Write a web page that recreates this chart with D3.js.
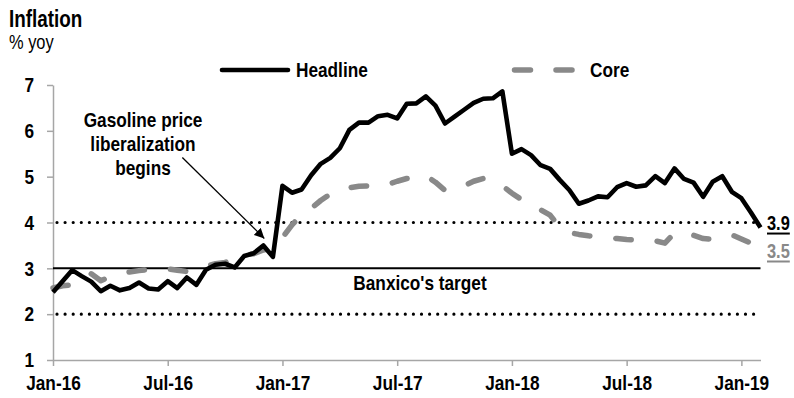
<!DOCTYPE html>
<html>
<head>
<meta charset="utf-8">
<script src="https://cdn.jsdelivr.net/npm/d3@7"></script>
<style>
  body { margin: 0; background: #fff; }
  svg { display: block; }
  text { font-family: "Liberation Sans", Arial, sans-serif; fill: #000; }
</style>
</head>
<body>
<svg id="chart" width="794" height="398"></svg>
<script>
// Mexico: annual CPI inflation, fortnightly readings (1H Jan-16 … 1H Feb-19), % yoy
const headline = [
  2.48, 2.72, 2.96, 2.83, 2.71, 2.50, 2.62, 2.52, 2.57, 2.69, 2.56, 2.54,
  2.72, 2.57, 2.80, 2.64, 2.97, 3.08, 3.10, 3.02, 3.27, 3.33, 3.50, 3.25,
  4.80, 4.65, 4.72, 5.03, 5.28, 5.41, 5.62, 6.02, 6.18, 6.18, 6.32, 6.35,
  6.27, 6.59, 6.60, 6.75, 6.55, 6.16, 6.31, 6.46, 6.61, 6.70, 6.71, 6.86,
  5.50, 5.60, 5.47, 5.25, 5.17, 4.93, 4.71, 4.41, 4.48, 4.57, 4.55, 4.77,
  4.86, 4.78, 4.81, 5.01, 4.86, 5.18, 4.95, 4.87, 4.56, 4.89, 5.01, 4.67,
  4.53, 4.22, 3.89
];
const core = [
  2.57, 2.62, 2.64, 2.76, 2.88, 2.73, 2.82, 2.89, 2.92, 2.95, 2.97, 2.98,
  2.99, 2.96, 2.93, 2.98, 3.05, 3.10, 3.13, 3.20, 3.29, 3.32, 3.40, 3.45,
  3.67, 3.95, 4.17, 4.31, 4.48, 4.62, 4.71, 4.76, 4.79, 4.80, 4.82, 4.83,
  4.90, 4.96, 4.99, 5.02, 4.88, 4.70, 4.76, 4.80, 4.90, 4.96, 4.91, 4.80,
  4.64, 4.50, 4.36, 4.28, 4.16, 3.90, 3.78, 3.74, 3.71, 3.69, 3.67, 3.65,
  3.63, 3.62, 3.62, 3.60, 3.55, 3.77, 3.76, 3.72, 3.65, 3.63, 3.67, 3.73,
  3.64, 3.55, 3.52
];
const yTicks = [1, 2, 3, 4, 5, 6, 7];
const toleranceBounds = [2, 4];
const banxicoTarget = 3;
const tickMonths = [0, 6]; // label January and July
const noteLines = ["Gasoline price", "liberalization", "begins"];

// fortnight start dates: 1st and 16th of each month from Jan 2016
const fortnights = headline.map((_, i) =>
  new Date(2016, Math.floor(i / 2), i % 2 ? 16 : 1));

const svg = d3.select("#chart");
const fmt = d3.timeFormat("%b-%y");

const x = d3.scaleLinear().domain([0, headline.length - 1]).range([53, 760.5]);
const y = d3.scaleLinear().domain([1, 7]).range([360, 85]);

const AXIS_GREY = "#a6a6a6";
const CORE_GREY = "#898989";
const FS = 21;
const NARROW = 0.82;

// squeeze a text run horizontally to a narrow face
function condense(sel) {
  sel.each(function () {
    const w = this.getComputedTextLength();
    d3.select(this).attr("textLength", w * NARROW).attr("lengthAdjust", "spacingAndGlyphs");
  });
  return sel;
}

// titles
condense(svg.append("text").attr("x", 9).attr("y", 27)
  .attr("font-size", 23).attr("font-weight", "bold").text("Inflation"));
condense(svg.append("text").attr("x", 9).attr("y", 49)
  .attr("font-size", 20).text("% yoy"));

// y axis
const yAxis = svg.append("g").attr("transform", `translate(${x(0)},0)`)
  .call(d3.axisLeft(y).tickValues(yTicks).tickSize(6).tickSizeOuter(0).tickPadding(13).tickFormat(d3.format("d")));
yAxis.select(".domain").attr("stroke", AXIS_GREY).attr("stroke-width", 1.5);
yAxis.selectAll(".tick line").attr("stroke", AXIS_GREY).attr("stroke-width", 1.5);
condense(yAxis.selectAll(".tick text").attr("font-size", FS).attr("font-weight", "bold")
  .attr("font-family", null).attr("fill", "#000"));

// x axis
const tickIdx = fortnights.map((d, i) => i)
  .filter(i => fortnights[i].getDate() === 1 && tickMonths.includes(fortnights[i].getMonth()));
const xAxis = svg.append("g").attr("transform", `translate(0,${y(1)})`)
  .call(d3.axisBottom(x).tickValues(tickIdx).tickSize(6).tickSizeOuter(0).tickPadding(9)
    .tickFormat(i => fmt(fortnights[i])));
xAxis.select(".domain").attr("stroke", AXIS_GREY).attr("stroke-width", 1.5);
xAxis.selectAll(".tick line").attr("stroke", AXIS_GREY).attr("stroke-width", 1.5);
condense(xAxis.selectAll(".tick text").attr("font-size", FS).attr("font-weight", "bold")
  .attr("font-family", null).attr("fill", "#000"));

// tolerance band bounds (dotted) and target (solid)
svg.selectAll("line.bound").data(toleranceBounds).join("line")
  .attr("class", "bound")
  .attr("x1", x(0) + 4).attr("x2", x(headline.length - 1))
  .attr("y1", d => y(d)).attr("y2", d => y(d))
  .attr("stroke", "#000").attr("stroke-width", 3.2)
  .attr("stroke-linecap", "round").attr("stroke-dasharray", "0,8.1");
svg.append("line")
  .attr("x1", x(0)).attr("x2", x(headline.length - 1))
  .attr("y1", y(banxicoTarget)).attr("y2", y(banxicoTarget))
  .attr("stroke", "#000").attr("stroke-width", 2);
condense(svg.append("text").attr("x", 420).attr("y", y(banxicoTarget) + 22)
  .attr("text-anchor", "middle").attr("font-size", FS).attr("font-weight", "bold")
  .text("Banxico's target"));

// series
const line = d3.line().x((d, i) => x(i)).y(d => y(d));
svg.append("path").datum(core).attr("d", line)
  .attr("fill", "none").attr("stroke", CORE_GREY).attr("stroke-width", 5.5)
  .attr("stroke-linecap", "round").attr("stroke-linejoin", "round")
  .attr("stroke-dasharray", "15.5,26");
svg.append("path").datum(headline).attr("d", line)
  .attr("fill", "none").attr("stroke", "#000").attr("stroke-width", 4.6)
  .attr("stroke-linejoin", "round");

// legend
svg.append("line").attr("x1", 222).attr("x2", 288).attr("y1", 70).attr("y2", 70)
  .attr("stroke", "#000").attr("stroke-width", 4.6).attr("stroke-linecap", "round");
condense(svg.append("text").attr("x", 296).attr("y", 77).attr("font-size", FS)
  .attr("font-weight", "bold").text("Headline"));
svg.append("line").attr("x1", 514.5).attr("x2", 573).attr("y1", 70).attr("y2", 70)
  .attr("stroke", CORE_GREY).attr("stroke-width", 5.5).attr("stroke-linecap", "round")
  .attr("stroke-dasharray", "16,25.5");
condense(svg.append("text").attr("x", 590).attr("y", 77).attr("font-size", FS)
  .attr("font-weight", "bold").text("Core"));

// latest values at the right end
const last = headline.length - 1;
const endLabels = [
  { v: headline[last], color: "#000", dy: 2.5 },
  { v: core[last], color: CORE_GREY, dy: 13.5 }
];
endLabels.forEach(l => {
  const t = condense(svg.append("text").attr("x", 767).attr("y", y(l.v) + l.dy)
    .attr("font-size", 20).attr("font-weight", "bold").style("fill", l.color)
    .text(d3.format(".1f")(l.v)));
  const bb = t.node().getBBox();
  svg.append("line").attr("x1", bb.x).attr("x2", bb.x + bb.width)
    .attr("y1", y(l.v) + l.dy + 3.5).attr("y2", y(l.v) + l.dy + 3.5)
    .attr("stroke", l.color).attr("stroke-width", 2);
});

// annotation: gasoline price liberalization
noteLines.forEach((s, i) =>
  condense(svg.append("text").attr("x", 143).attr("y", 127 + i * 24)
    .attr("text-anchor", "middle").attr("font-size", FS).attr("font-weight", "bold").text(s)));
svg.append("defs").append("marker").attr("id", "arrow")
  .attr("viewBox", "0 0 10 10").attr("refX", 10).attr("refY", 5)
  .attr("markerWidth", 10).attr("markerHeight", 10).attr("markerUnits", "userSpaceOnUse")
  .attr("orient", "auto")
  .append("path").attr("d", "M0,0L10,5L0,10Z").attr("fill", "#000");
const tipX = x(22) + 1, tipY = y(headline[22]) - 7;
svg.append("line").attr("x1", tipX - 82).attr("y1", tipY - 81)
  .attr("x2", tipX).attr("y2", tipY)
  .attr("stroke", "#000").attr("stroke-width", 1.3).attr("marker-end", "url(#arrow)");
</script>
</body>
</html>
